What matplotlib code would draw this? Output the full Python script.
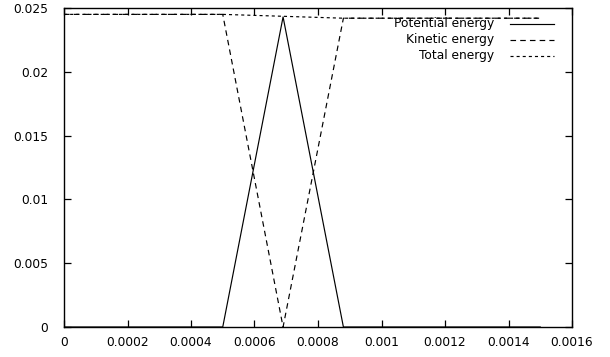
import matplotlib
matplotlib.use("Agg")
import matplotlib.pyplot as plt
from matplotlib.lines import Line2D

plt.rcParams['font.family'] = ['DejaVu Sans']
plt.rcParams['lines.scale_dashes'] = False

# Energy histories over time
time = [0.0, 0.0005, 0.00069, 0.00088, 0.0015]
potential = [0.0, 0.0, 0.0243, 0.0, 0.0]
kinetic = [0.0245, 0.0245, 0.0, 0.0242, 0.0242]
total = [0.0245, 0.0245, 0.02435, 0.0242, 0.0242]

series_labels = ["Potential energy", "Kinetic energy", "Total energy"]
x_ticks = [0, 0.0002, 0.0004, 0.0006, 0.0008, 0.001, 0.0012, 0.0014, 0.0016]
x_ticklabels = ["0", "0.0002", "0.0004", "0.0006", "0.0008", "0.001", "0.0012", "0.0014", "0.0016"]
y_ticks = [0, 0.005, 0.01, 0.015, 0.02, 0.025]
y_ticklabels = ["0", "0.005", "0.01", "0.015", "0.02", "0.025"]

fs = 8.8
fig = plt.figure(figsize=(6.10, 3.57), dpi=100)
ax = fig.add_axes([64 / 610, 1 - 327 / 357, (572 - 64) / 610, (327 - 8) / 357])

styles = [
    dict(linestyle='-'),
    dict(linestyle=(0, (4.0, 3.0))),
    dict(linestyle=(0, (2.2, 2.2))),
]
series = [potential, kinetic, total]
for vals, st in zip(series, styles):
    ax.plot(time, vals, color='black', linewidth=0.85, **st)

ax.set_xlim(0, 0.0016)
ax.set_ylim(0, 0.025)
ax.set_xticks(x_ticks)
ax.set_xticklabels(x_ticklabels, fontsize=fs)
ax.set_yticks(y_ticks)
ax.set_yticklabels(y_ticklabels, fontsize=fs)
ax.tick_params(direction='in', length=5, width=0.9, top=True, right=True, colors='black')
ax.tick_params(axis='y', pad=11.5)
ax.tick_params(axis='x', pad=6.5)
for sp in ax.spines.values():
    sp.set_linewidth(1.0)

# gnuplot-style key: right-aligned labels followed by line samples
trans = ax.transAxes
def ax_x(px):
    return (px - 64) / (572 - 64)
def ax_y(py):
    return (327 - py) / (327 - 8)

rows_y = [24, 40, 56]
for label, st, py in zip(series_labels, styles, rows_y):
    ax.text(ax_x(494), ax_y(py), label, transform=trans, ha='right', va='center',
            fontsize=fs)
    ax.add_line(Line2D([ax_x(510), ax_x(554)], [ax_y(py), ax_y(py)], transform=trans,
                       color='black', linewidth=0.85, **st))

fig.savefig("out.png", dpi=100)
